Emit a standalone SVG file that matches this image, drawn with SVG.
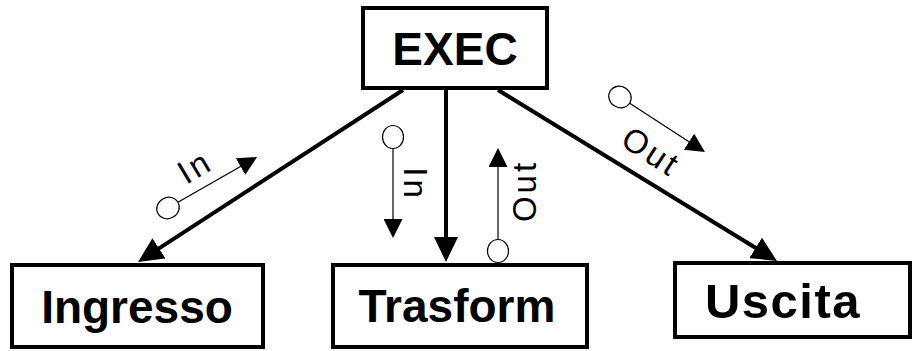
<svg xmlns="http://www.w3.org/2000/svg" width="913" height="351" viewBox="0 0 913 351">
<style>
.box{fill:#fff;stroke:#000;stroke-width:4}
.title{font-family:"Liberation Sans",Arial,sans-serif;font-weight:bold;font-size:46px;fill:#000;text-anchor:middle}
.main{stroke:#000;stroke-width:4;fill:none}
.flow{stroke:#000;stroke-width:1.2;fill:none}
.tok{fill:#fff;stroke:#000;stroke-width:1.2}
.lab{font-family:"Liberation Sans",Arial,sans-serif;font-size:33px;fill:#000;text-anchor:middle;letter-spacing:3px}
</style>
<defs>
<marker id="big" markerUnits="userSpaceOnUse" viewBox="0 0 25 24" refX="5" refY="12" markerWidth="25" markerHeight="24" orient="auto">
<path d="M0,0 L25,12 L0,24 z" fill="#000"/>
</marker>
<marker id="small" markerUnits="userSpaceOnUse" viewBox="0 0 19 19" refX="5" refY="9.5" markerWidth="19" markerHeight="19" orient="auto">
<path d="M0,0 L19,9.5 L0,19 z" fill="#000"/>
</marker>
</defs>
<g id="connectors">
<line class="main" x1="403" y1="90" x2="154.8" y2="251.1" marker-end="url(#big)"/>
<line class="main" x1="446" y1="90" x2="446" y2="242" marker-end="url(#big)"/>
<line class="main" x1="498" y1="90" x2="759.9" y2="250.5" marker-end="url(#big)"/>
<g id="flow-in-ingresso">
<line class="flow" x1="177.5" y1="202.5" x2="244.9" y2="164" marker-end="url(#small)"/>
<ellipse class="tok" cx="168" cy="208" rx="11.5" ry="10.5" transform="rotate(-30 168 208)"/>
<text class="lab" transform="translate(195,167) rotate(-31)" y="11">In</text>
</g>
<g id="flow-in-trasform">
<line class="flow" x1="393" y1="148.5" x2="393" y2="224" marker-end="url(#small)"/>
<ellipse class="tok" cx="393" cy="137" rx="10.5" ry="11.5"/>
<text class="lab" transform="translate(415,184) rotate(90)" y="11">In</text>
</g>
<g id="flow-out-trasform">
<line class="flow" x1="498" y1="239.5" x2="498" y2="162" marker-end="url(#small)"/>
<ellipse class="tok" cx="498" cy="251" rx="10.5" ry="11.5"/>
<text class="lab" transform="translate(525,191) rotate(-90)" y="11">Out</text>
</g>
<g id="flow-out-uscita">
<line class="flow" x1="629.7" y1="103.3" x2="693.2" y2="144.4" marker-end="url(#small)"/>
<ellipse class="tok" cx="620" cy="97" rx="11.5" ry="10.5" transform="rotate(33 620 97)"/>
<text class="lab" transform="translate(651,152) rotate(33)" y="11">Out</text>
</g>
</g>
<g id="exec">
<rect class="box" x="363" y="8" width="184" height="80"/>
<text class="title" x="455" y="65">EXEC</text>
</g>
<g id="ingresso">
<rect class="box" x="12" y="265" width="251" height="82"/>
<text class="title" x="137" y="323">Ingresso</text>
</g>
<g id="trasform">
<rect class="box" x="333" y="265" width="254" height="82"/>
<text class="title" x="457" y="322">Trasform</text>
</g>
<g id="uscita">
<rect class="box" x="675" y="263" width="235" height="74"/>
<text class="title" x="783" y="318" style="font-size:49px;letter-spacing:1.5px">Uscita</text>
</g>
</svg>
